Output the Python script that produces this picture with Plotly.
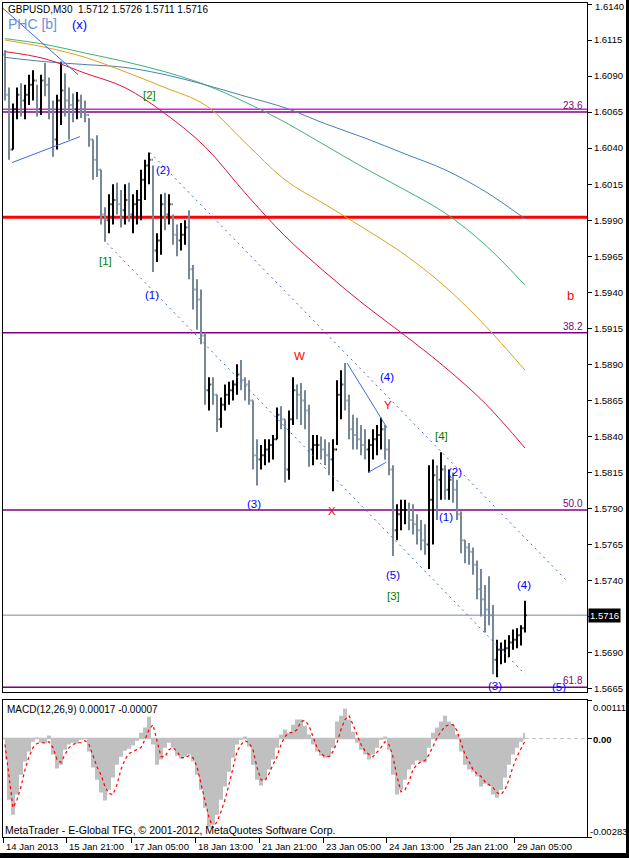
import plotly.graph_objects as go

# ---------------- GBPUSD M30, plotted in groups of four bars ----------------
bar_high = [
    1.6108, 1.6082, 1.6071, 1.6082, 1.6085, 1.6084, 1.6091, 1.6094, 1.6084, 1.6091,
    1.6099, 1.6089, 1.6073, 1.6077, 1.6100, 1.6092, 1.6082, 1.6078, 1.6079, 1.6077,
    1.6073, 1.6061, 1.6046, 1.6049, 1.6025, 1.5999, 1.6008, 1.6015, 1.6016, 1.6011,
    1.6015, 1.6016, 1.6008, 1.6011, 1.6025, 1.6032, 1.6037, 1.6028, 1.5981, 1.6008,
    1.6009, 1.6008, 1.5994, 1.5987, 1.5988, 1.5990, 1.5997, 1.5959, 1.5949, 1.5942,
    1.5912, 1.5881, 1.5881, 1.5869, 1.5867, 1.5876, 1.5878, 1.5879, 1.5890, 1.5893,
    1.5881, 1.5879, 1.5865, 1.5838, 1.5834, 1.5838, 1.5838, 1.5841, 1.5860, 1.5861,
    1.5852, 1.5858, 1.5881, 1.5876, 1.5877, 1.5872, 1.5862, 1.5841, 1.5841, 1.5840,
    1.5838, 1.5836, 1.5838, 1.5879, 1.5886, 1.5891, 1.5869, 1.5855, 1.5853, 1.5848,
    1.5845, 1.5838, 1.5845, 1.5848, 1.5853, 1.5848, 1.5838, 1.5820, 1.5793, 1.5796,
    1.5796, 1.5794, 1.5793, 1.5786, 1.5782, 1.5779, 1.5820, 1.5824, 1.5820, 1.5829,
    1.5820, 1.5817, 1.5815, 1.5810, 1.5788, 1.5768, 1.5766, 1.5763, 1.5754, 1.5748,
    1.5737, 1.5743, 1.5723, 1.5699, 1.5697, 1.5699, 1.5702, 1.5706, 1.5707, 1.5709, 1.5726,
]
bar_low = [
    1.6073, 1.6032, 1.6039, 1.6060, 1.6062, 1.6060, 1.6070, 1.6073, 1.6062, 1.6063,
    1.6076, 1.6060, 1.6034, 1.6039, 1.6056, 1.6062, 1.6046, 1.6058, 1.6060, 1.6061,
    1.6058, 1.6041, 1.6018, 1.6020, 1.5987, 1.5975, 1.5981, 1.5987, 1.5994, 1.5985,
    1.5987, 1.5989, 1.5981, 1.5987, 1.5990, 1.6004, 1.6015, 1.5954, 1.5961, 1.5966,
    1.5983, 1.5987, 1.5973, 1.5965, 1.5969, 1.5973, 1.5949, 1.5928, 1.5914, 1.5904,
    1.5862, 1.5858, 1.5862, 1.5843, 1.5846, 1.5858, 1.5862, 1.5865, 1.5869, 1.5872,
    1.5865, 1.5862, 1.5817, 1.5806, 1.5817, 1.5820, 1.5822, 1.5824, 1.5838, 1.5845,
    1.5808, 1.5810, 1.5848, 1.5852, 1.5848, 1.5845, 1.5819, 1.5820, 1.5824, 1.5824,
    1.5820, 1.5813, 1.5802, 1.5834, 1.5852, 1.5858, 1.5838, 1.5831, 1.5831, 1.5827,
    1.5824, 1.5815, 1.5824, 1.5827, 1.5831, 1.5824, 1.5813, 1.5757, 1.5768, 1.5775,
    1.5779, 1.5775, 1.5772, 1.5765, 1.5761, 1.5758, 1.5748, 1.5765, 1.5782, 1.5796,
    1.5796, 1.5796, 1.5794, 1.5782, 1.5759, 1.5752, 1.5751, 1.5744, 1.5727, 1.5715,
    1.5704, 1.5709, 1.5675, 1.5673, 1.5682, 1.5683, 1.5687, 1.5692, 1.5693, 1.5695, 1.5704,
]
bar_close = [
    1.6077, 1.6039, 1.6067, 1.6077, 1.6073, 1.6077, 1.6084, 1.6087, 1.6067, 1.6087,
    1.6084, 1.6067, 1.6046, 1.6073, 1.6080, 1.6073, 1.6070, 1.6067, 1.6073, 1.6067,
    1.6063, 1.6046, 1.6032, 1.6025, 1.5994, 1.5990, 1.6001, 1.6004, 1.6001, 1.5997,
    1.6004, 1.5994, 1.6001, 1.6004, 1.6018, 1.6028, 1.6032, 1.5969, 1.5976, 1.6001,
    1.5994, 1.6001, 1.5980, 1.5976, 1.5980, 1.5985, 1.5956, 1.5942, 1.5935, 1.5910,
    1.5872, 1.5876, 1.5869, 1.5852, 1.5862, 1.5869, 1.5872, 1.5876, 1.5883, 1.5879,
    1.5876, 1.5865, 1.5827, 1.5824, 1.5827, 1.5831, 1.5834, 1.5838, 1.5855, 1.5852,
    1.5817, 1.5852, 1.5872, 1.5869, 1.5865, 1.5858, 1.5831, 1.5834, 1.5834, 1.5831,
    1.5827, 1.5824, 1.5831, 1.5869, 1.5876, 1.5865, 1.5845, 1.5841, 1.5838, 1.5834,
    1.5831, 1.5834, 1.5838, 1.5841, 1.5845, 1.5831, 1.5817, 1.5775, 1.5786, 1.5789,
    1.5789, 1.5782, 1.5779, 1.5775, 1.5768, 1.5765, 1.5796, 1.5813, 1.5810, 1.5817,
    1.5803, 1.5810, 1.5803, 1.5786, 1.5768, 1.5763, 1.5760, 1.5751, 1.5734, 1.5727,
    1.5720, 1.5716, 1.5685, 1.5692, 1.5692, 1.5693, 1.5697, 1.5699, 1.5702, 1.5707, 1.5716,
]
first_open = 1.6105
last_ohlc = ["1.5712", "1.5726", "1.5711", "1.5716"]

# ---------------- MACD(12,26,9) per plotted bar ----------------
macd_main = [
    -0.00060, -0.00176, -0.00219, -0.00161, -0.00104, -0.00066, -0.00037, -0.00009, 0.00003, -0.00012,
    -0.00014, 0.00009, -0.00046, -0.00086, -0.00075, -0.00032, -0.00017, -0.00012, -0.00014, -0.00003,
    0.00000, -0.00037, -0.00083, -0.00118, -0.00155, -0.00178, -0.00147, -0.00112, -0.00075, -0.00052,
    -0.00035, -0.00029, -0.00020, -0.00006, 0.00017, 0.00032, 0.00063, -0.00017, -0.00075, -0.00060,
    -0.00026, -0.00012, -0.00026, -0.00049, -0.00058, -0.00052, -0.00046, -0.00066, -0.00104, -0.00147,
    -0.00199, -0.00256, -0.00248, -0.00219, -0.00176, -0.00138, -0.00095, -0.00055, -0.00017, -0.00003,
    0.00006, -0.00023, -0.00075, -0.00118, -0.00135, -0.00118, -0.00089, -0.00060, -0.00026, 0.00012,
    0.00026, 0.00017, 0.00040, 0.00055, 0.00055, 0.00037, 0.00012, -0.00017, -0.00037, -0.00049,
    -0.00055, -0.00052, -0.00026, 0.00049, 0.00066, 0.00086, 0.00055, 0.00020, -0.00012, -0.00032,
    -0.00046, -0.00060, -0.00046, -0.00026, -0.00003, 0.00006, -0.00032, -0.00104, -0.00161, -0.00147,
    -0.00118, -0.00089, -0.00075, -0.00063, -0.00066, -0.00069, -0.00026, 0.00017, 0.00032, 0.00049,
    0.00066, 0.00049, 0.00040, 0.00012, -0.00037, -0.00075, -0.00089, -0.00095, -0.00109, -0.00138,
    -0.00130, -0.00135, -0.00161, -0.00170, -0.00147, -0.00112, -0.00075, -0.00046, -0.00026, -0.00009, 0.00017,
]
macd_signal = [
    -0.00017, -0.00104, -0.00199, -0.00176, -0.00138, -0.00089, -0.00052, -0.00026, -0.00014, -0.00012,
    -0.00012, -0.00009, -0.00026, -0.00060, -0.00069, -0.00046, -0.00026, -0.00017, -0.00012, -0.00012,
    -0.00006, -0.00017, -0.00052, -0.00081, -0.00104, -0.00138, -0.00158, -0.00161, -0.00132, -0.00089,
    -0.00060, -0.00043, -0.00037, -0.00032, -0.00026, -0.00003, 0.00026, 0.00040, -0.00003, -0.00052,
    -0.00052, -0.00032, -0.00026, -0.00037, -0.00055, -0.00055, -0.00049, -0.00055, -0.00081, -0.00132,
    -0.00176, -0.00227, -0.00256, -0.00239, -0.00210, -0.00176, -0.00132, -0.00081, -0.00037, -0.00017,
    -0.00006, -0.00012, -0.00032, -0.00083, -0.00118, -0.00121, -0.00101, -0.00075, -0.00052, -0.00017,
    0.00006, 0.00017, 0.00017, 0.00026, 0.00049, 0.00052, 0.00037, 0.00006, -0.00026, -0.00043,
    -0.00052, -0.00052, -0.00037, -0.00012, 0.00026, 0.00055, 0.00066, 0.00040, 0.00012, -0.00017,
    -0.00035, -0.00046, -0.00052, -0.00040, -0.00026, -0.00009, -0.00017, -0.00052, -0.00109, -0.00153,
    -0.00147, -0.00124, -0.00089, -0.00075, -0.00066, -0.00063, -0.00046, -0.00023, 0.00003, 0.00020,
    0.00035, 0.00040, 0.00040, 0.00023, -0.00009, -0.00046, -0.00066, -0.00089, -0.00101, -0.00109,
    -0.00124, -0.00132, -0.00141, -0.00155, -0.00161, -0.00147, -0.00118, -0.00081, -0.00052, -0.00029, -0.00007,
]
macd_range = [-0.00283, 0.00111]

# ---------------- moving averages, one sample every ten plotted bars ----------------
ma_green = [1.6116, 1.6112, 1.6106, 1.6100, 1.6093, 1.6084, 1.6072, 1.6058, 1.6042, 1.6026, 1.6011, 1.5995, 1.5973, 1.5945]
ma_blue = [1.6103, 1.6100, 1.6098, 1.6096, 1.6091, 1.6084, 1.6076, 1.6068, 1.6057, 1.6047, 1.6036, 1.6025, 1.6010, 1.5991]
ma_orange = [1.6115, 1.6110, 1.6103, 1.6093, 1.6082, 1.6070, 1.6044, 1.6018, 1.6001, 1.5984, 1.5966, 1.5944, 1.5917, 1.5886]
ma_red = [1.6107, 1.6102, 1.6092, 1.6082, 1.6064, 1.6041, 1.6009, 1.5979, 1.5954, 1.5931, 1.5910, 1.5888, 1.5863, 1.5832]

# ---------------- horizontal objects ----------------
fib_levels = ["23.6", "38.2", "50.0", "61.8"]
fib_prices = [1.6065, 1.5912, 1.5789, 1.5666]
pivot_price = 1.6067
red_level = 1.5992
bid_price = 1.5716

# ---------------- axes ----------------
price_ticks = [1.6140, 1.6115, 1.6090, 1.6065, 1.6040, 1.6015, 1.5990, 1.5965, 1.5940, 1.5915,
               1.5890, 1.5865, 1.5840, 1.5815, 1.5790, 1.5765, 1.5740, 1.5715, 1.5690, 1.5665]
price_range = [1.56627, 1.61407]
date_labels = ["14 Jan 2013", "15 Jan 21:00", "17 Jan 05:00", "18 Jan 13:00", "21 Jan 21:00",
               "23 Jan 05:00", "24 Jan 13:00", "25 Jan 21:00", "29 Jan 05:00"]
date_bars = [0, 63, 128, 192, 256, 320, 383, 447, 511]
bar_span = 584

# ---------------- wave markup: trend lines (bar, price) -> (bar, price) ----------------
solid_lines = [
    ((0, 1.6137), (75, 1.6091)),
    ((9, 1.6030), (77, 1.6048)),
    ((344, 1.5891), (384, 1.5846)),
    ((365, 1.5815), (383, 1.5822)),
]
channel_lines = [
    ((147, 1.6037), (565, 1.5739)),
    ((104, 1.5974), (522, 1.5675)),
]
wave_labels = [
    ("[2]", 146, 1.6077, "#008000"), ("[1]", 102, 1.5962, "#008000"),
    ("(2)", 160, 1.6025, "#0000FF"), ("(1)", 149, 1.5938, "#0000FF"),
    ("W", 296, 1.5896, "#FF0000"), ("(4)", 384, 1.5881, "#0000FF"),
    ("Y", 385, 1.5862, "#FF0000"), ("[4]", 438, 1.5840, "#008000"),
    ("(2)", 452, 1.5815, "#0000FF"), ("(3)", 251, 1.5793, "#0000FF"),
    ("X", 329, 1.5788, "#FF0000"), ("(1)", 443, 1.5784, "#0000FF"),
    ("(5)", 390, 1.5744, "#0000FF"), ("[3]", 390, 1.5729, "#008000"),
    ("(4)", 521, 1.5737, "#0000FF"), ("(3)", 492, 1.5667, "#0000FF"),
    ("(5)", 556, 1.5666, "#0000FF"), ("b", 567, 1.5938, "#FF0000"),
    ("(x)", 76, 1.6126, "#0000FF"),
]

FONT = "Liberation Sans"
GROUP = 4
n = len(bar_close)
bar_x = [GROUP * k + GROUP / 2 for k in range(n)]
bar_open = [first_open] + bar_close[:-1]
ma_x = [bar_x[k] for k in range(0, n, 10)]


def px(xp, yp):
    """Pixel position on the page -> paper coordinates."""
    return (xp - 3) / 584, (837 - yp) / 834


fig = go.Figure()

# moving averages
for vals, col in [(ma_green, "#3CB371"), (ma_blue, "#4682B4"),
                  (ma_orange, "#E0A020"), (ma_red, "#DC143C")]:
    fig.add_trace(go.Scatter(x=ma_x, y=vals, mode="lines", line=dict(color=col, width=1, shape="spline"),
                             xaxis="x", yaxis="y", hoverinfo="skip"))

# price bars
fig.add_trace(go.Ohlc(
    x=bar_x, open=bar_open, high=bar_high, low=bar_low, close=bar_close,
    increasing=dict(line=dict(color="black", width=2)),
    decreasing=dict(line=dict(color="#778899", width=2)),
    tickwidth=0.4, xaxis="x", yaxis="y", hoverinfo="skip"))

# trend lines
for (b0, p0), (b1, p1) in solid_lines:
    fig.add_trace(go.Scatter(x=[b0, b1], y=[p0, p1], mode="lines",
                             line=dict(color="#4169E1", width=1), xaxis="x", yaxis="y", hoverinfo="skip"))
for (b0, p0), (b1, p1) in channel_lines:
    fig.add_trace(go.Scatter(x=[b0, b1], y=[p0, p1], mode="lines",
                             line=dict(color="#4169E1", width=1, dash="2px,4px"),
                             xaxis="x", yaxis="y", hoverinfo="skip"))

# MACD histogram (stepped, filled to zero) and signal
fig.add_trace(go.Scatter(x=bar_x, y=macd_main, mode="lines", line=dict(width=0, shape="hvh"),
                         fill="tozeroy", fillcolor="#C0C0C0", xaxis="x2", yaxis="y2", hoverinfo="skip"))
fig.add_trace(go.Scatter(x=bar_x, y=macd_signal, mode="lines",
                         line=dict(color="#FF0000", width=1.2, dash="3px,3px"),
                         xaxis="x2", yaxis="y2", hoverinfo="skip"))

shapes = []
# horizontal levels
shapes.append(dict(type="line", xref="x", yref="y", x0=0, x1=bar_span, y0=pivot_price, y1=pivot_price,
                   line=dict(color="#E020E0", width=1.5), layer="below"))
for p in fib_prices:
    shapes.append(dict(type="line", xref="x", yref="y", x0=0, x1=bar_span, y0=p, y1=p,
                       line=dict(color="#800080", width=1.5), layer="below"))
shapes.append(dict(type="line", xref="x", yref="y", x0=0, x1=bar_span, y0=red_level, y1=red_level,
                   line=dict(color="#FF0000", width=3), layer="below"))
shapes.append(dict(type="line", xref="x", yref="y", x0=0, x1=bar_span, y0=bid_price, y1=bid_price,
                   line=dict(color="#778899", width=1), layer="below"))
# MACD zero level
shapes.append(dict(type="line", xref="x2", yref="y2", x0=0, x1=bar_x[-1], y0=0, y1=0,
                   line=dict(color="#C0C0C0", width=1.5), layer="below"))
shapes.append(dict(type="line", xref="x2", yref="y2", x0=bar_x[-1], x1=bar_span, y0=0, y1=0,
                   line=dict(color="#C0C0C0", width=1, dash="4px,3px"), layer="below"))
# window frame (right and bottom)
x0, _ = px(626, 0)
x1, _ = px(630, 0)
_, yb0 = px(0, 859)
_, yb1 = px(0, 853)
_, ytop = px(0, -1)
shapes.append(dict(type="rect", xref="paper", yref="paper", x0=x0, x1=x1, y0=yb0, y1=ytop,
                   fillcolor="black", line=dict(width=0)))
shapes.append(dict(type="rect", xref="paper", yref="paper", x0=px(-1, 0)[0], x1=x1, y0=yb0, y1=yb1,
                   fillcolor="black", line=dict(width=0)))

ann = []


def text_px(txt, xp, yp, size=10, color="black", anchor="left", **kw):
    ax, ay = px(xp, yp)
    ann.append(dict(text=txt, x=ax, y=ay, xref="paper", yref="paper", xanchor=anchor, yanchor="middle",
                    showarrow=False, font=dict(family=FONT, size=size, color=color), **kw))


# header and window captions
text_px("GBPUSD,M30  " + " ".join(last_ohlc), 6, 10, size=10)
text_px("PHC [b]", 6, 24, size=14, color="#6A8FE0")
text_px("MACD(12,26,9) 0.00017 -0.00007", 5, 709, size=10)
text_px("MetaTrader - E-Global TFG, © 2001-2012, MetaQuotes Software Corp.", 3, 830, size=10.5)
text_px("0.00111", 591, 707, size=9.5)
text_px("<b>0.00</b>", 591, 739, size=9.5)
text_px("-0.00283", 588, 831, size=9.5)
# the top price label sits against the upper edge of the window
text_px(f"{price_ticks[0]:.4f}", 593, 6.5, size=9.5)

# current price tag
ann.append(dict(text=f"{bid_price:.4f}", x=px(588, 0)[0], y=bid_price, xref="paper", yref="y",
                xanchor="left", yanchor="middle", showarrow=False, bgcolor="black", borderpad=1,
                font=dict(family=FONT, size=9.5, color="white")))

# fibo level captions
for lvl, p in zip(fib_levels, fib_prices):
    ann.append(dict(text=lvl, x=bar_span - 2, y=p, xref="x", yref="y", xanchor="right", yanchor="bottom",
                    yshift=-1, showarrow=False, font=dict(family=FONT, size=10, color="#800080")))

# wave counts
for txt, b, p, col in wave_labels:
    size = 13 if txt in ("b", "(x)") else 11.5
    ann.append(dict(text=txt, x=b, y=p, xref="x", yref="y", xanchor="center", yanchor="middle",
                    showarrow=False, font=dict(family=FONT, size=size, color=col)))

# time labels
for lab, b in zip(date_labels, date_bars):
    ann.append(dict(text=lab, x=b + 1, y=px(0, 846)[1], xref="x2", yref="paper", xanchor="left",
                    yanchor="middle", showarrow=False, font=dict(family=FONT, size=9.5, color="black")))

# 1.5715 is covered by the price tag, 1.6140 is written above
price_text = [f"{t:.4f}" if (abs(t - 1.5715) > 1e-6 and t != price_ticks[0]) else "" for t in price_ticks]

fig.update_layout(
    width=629, height=858,
    margin=dict(l=3, r=42, t=3, b=21, autoexpand=False),
    paper_bgcolor="white", plot_bgcolor="white",
    showlegend=False,
    shapes=shapes, annotations=ann,
    xaxis=dict(domain=[0, 1], range=[0, bar_span], anchor="y", showgrid=False, zeroline=False,
               showticklabels=False, ticks="", showline=True, linecolor="black", linewidth=1, mirror=True,
               rangeslider=dict(visible=False), fixedrange=True, automargin=False),
    yaxis=dict(domain=[px(0, 692)[1], 1], range=price_range, side="right", anchor="x",
               tickvals=price_ticks, ticktext=price_text, ticks="outside", ticklen=4, tickcolor="black",
               tickfont=dict(family=FONT, size=9.5, color="black"), ticklabeloverflow="allow",
               showgrid=False, zeroline=False, showline=True, linecolor="black", linewidth=1, mirror=True,
               automargin=False),
    xaxis2=dict(domain=[0, 1], range=[0, bar_span], anchor="y2", showgrid=False, zeroline=False,
                showticklabels=False, tickvals=date_bars, ticks="outside", ticklen=5, tickcolor="black",
                showline=True, linecolor="black", linewidth=1, mirror=True, automargin=False),
    yaxis2=dict(domain=[0, px(0, 700)[1]], range=macd_range, side="right", anchor="x2",
                tickvals=[macd_range[1], 0, macd_range[0]], showticklabels=False, ticks="outside",
                ticklen=4, tickcolor="black", showgrid=False, zeroline=False,
                showline=True, linecolor="black", linewidth=1, mirror=True, automargin=False),
)

fig.write_html("out.html")
